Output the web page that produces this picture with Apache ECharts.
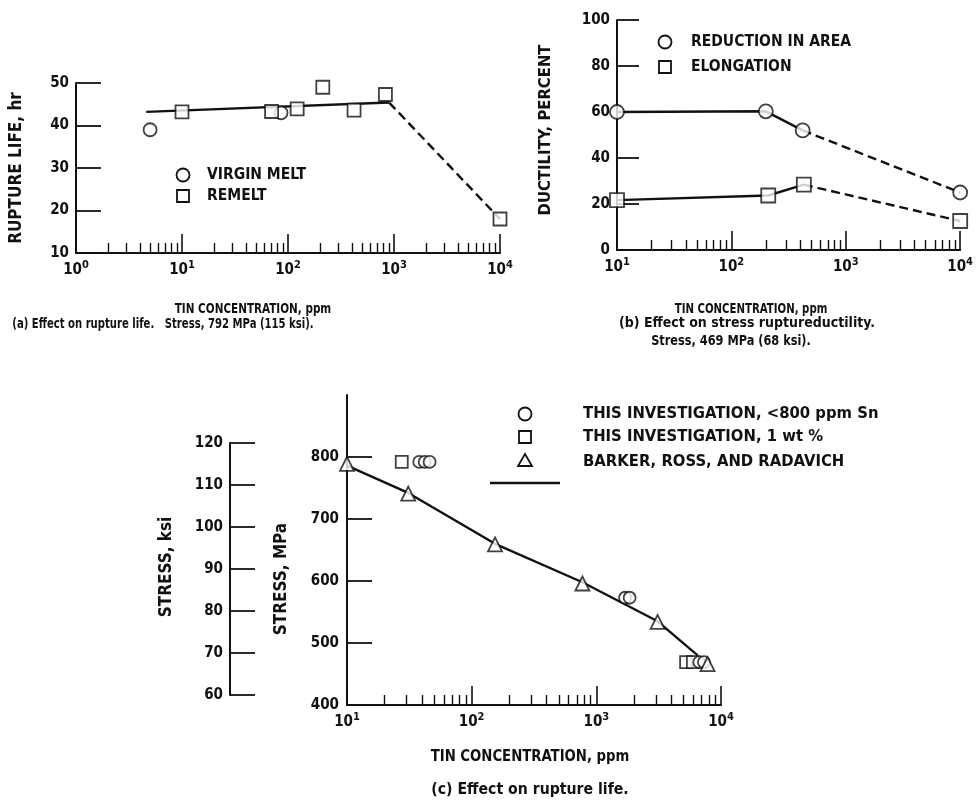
<!DOCTYPE html>
<html><head><meta charset="utf-8">
<script src="https://cdn.jsdelivr.net/npm/echarts@6/dist/echarts.min.js"></script>
<style>html,body{margin:0;padding:0;background:#fff}#c{width:976px;height:810px}</style>
</head><body><div id="c"></div>
<script>
// ---------------- data ----------------
const decadeTicks = [1, 10, 100, 1000, 10000];
// (a) rupture life, hr vs tin concentration, ppm
const aVirginMelt = [[5, 39], [86, 43]];
const aRemelt = [[10, 43.2], [70, 43.3], [122, 43.9], [213, 49], [420, 43.6], [830, 47.3], [10000, 18]];
const aFitSolid = [[4.6, 43.2], [900, 45.4]];
const aFitDashed = [[900, 45.4], [10000, 18]];
// (b) ductility, percent
const bReduction = [[10, 60], [200, 60.3], [420, 52], [10000, 25]];
const bElongation = [[10, 21.7], [210, 23.7], [430, 28.4], [10000, 12.6]];
const bRaSolid = [[10, 60], [200, 60.3], [420, 52]];
const bRaDashed = [[420, 52], [10000, 25]];
const bElSolid = [[10, 21.7], [210, 23.7], [430, 28.4]];
const bElDashed = [[430, 28.4], [10000, 12.6]];
// (c) stress, MPa
const cBelow800 = [[38, 792], [42, 792], [46, 792], [1700, 573], [1850, 573], [6700, 469], [7300, 469]];
const cOneWt = [[27.5, 792], [5250, 469], [5950, 469]];
const cBarker = [[10, 789], [31, 741], [154, 659], [773, 596], [3100, 534], [7800, 466]];
const cBarkerFit = [[10, 786], [31, 742], [154, 660], [773, 598], [3100, 535], [6500, 480]];
const cMpaLabels = [400, 500, 600, 700, 800];
const cMpaTicks = [500, 600, 700, 800];

// ---------------- style ----------------
const INK = '#111';
const F = '"DejaVu Sans Condensed", "DejaVu Sans", sans-serif';
const minorVals = [];
decadeTicks.forEach(d => { for (let k = 2; k <= 9; k++) minorVals.push(d * k); });

function logLabel(v) { return '{b|10}{s|' + Math.round(Math.log10(v)) + '}'; }
const logRich = {
  b: { fontSize: 15, fontWeight: 'bold', fontFamily: F, color: INK },
  s: { fontSize: 11, fontWeight: 'bold', fontFamily: F, color: INK, padding: [0, 0, 9, 0] }
};
function xMajor(grid, min) {
  const d = decadeTicks.filter(v => v >= min);
  return {
    type: 'log', logBase: 10, gridIndex: grid, min: min, max: 10000, position: 'bottom',
    axisLine: { show: true, lineStyle: { color: INK, width: 2 } },
    axisTick: { show: true, inside: true, length: 19, lineStyle: { color: INK, width: 1.6 }, customValues: d },
    axisLabel: { show: true, customValues: d, formatter: logLabel, rich: logRich, margin: 7 },
    splitLine: { show: false }, minorTick: { show: false }
  };
}
function xMinor(grid, min) {
  return {
    type: 'log', logBase: 10, gridIndex: grid, min: min, max: 10000, position: 'bottom',
    axisLine: { show: false }, axisLabel: { show: false }, splitLine: { show: false },
    axisTick: { show: true, inside: true, length: 10, lineStyle: { color: INK, width: 1.4 },
      customValues: minorVals.filter(v => v > min && v < 10000) }
  };
}
function yAx(grid, min, max, interval, len, extra) {
  return Object.assign({
    type: 'value', gridIndex: grid, min: min, max: max, interval: interval,
    axisLine: { show: true, lineStyle: { color: INK, width: 2 } },
    axisTick: { show: true, inside: true, length: len, lineStyle: { color: INK, width: 1.8 } },
    axisLabel: { color: INK, fontSize: 15, fontWeight: 'bold', fontFamily: F, margin: 7 },
    splitLine: { show: false }
  }, extra || {});
}
const open = { color: '#fff', borderColor: INK, borderWidth: 1.8 };
function pts(name, data, xi, yi, symbol, size) {
  return { name: name, type: 'scatter', xAxisIndex: xi, yAxisIndex: yi, data: data, symbol: symbol,
    symbolSize: size, itemStyle: open, z: 5 };
}
function line(data, xi, yi, dashed) {
  return { type: 'line', xAxisIndex: xi, yAxisIndex: yi, data: data, symbol: 'none', silent: true,
    lineStyle: { color: INK, width: 2.4, type: dashed ? [9, 5] : 'solid' }, z: 3 };
}

const option = {
  backgroundColor: '#fff',
  animation: false,
  grid: [
    { left: 76, top: 83, width: 424, height: 170 },
    { left: 617, top: 20, width: 345, height: 230 },
    { left: 347, top: 395, width: 374, height: 310 },
    { left: 230, top: 443, width: 10, height: 252 }
  ],
  xAxis: [
    xMajor(0, 1), xMinor(0, 1),
    xMajor(1, 10), xMinor(1, 10),
    xMajor(2, 10), xMinor(2, 10),
    { type: 'value', gridIndex: 3, show: false }
  ],
  yAxis: [
    yAx(0, 10, 50, 10, 25),
    yAx(1, 0, 100, 20, 22),
    yAx(2, 400, 900, 100, 25, {
      axisTick: { show: true, inside: true, length: 25, lineStyle: { color: INK, width: 1.8 }, customValues: cMpaTicks },
      axisLabel: { color: INK, fontSize: 15, fontWeight: 'bold', fontFamily: F, margin: 8, customValues: cMpaLabels }
    }),
    yAx(3, 60, 120, 10, 25)
  ],
  series: [
    line(aFitSolid, 0, 0, false), line(aFitDashed, 0, 0, true),
    pts('VIRGIN MELT', aVirginMelt, 0, 0, 'circle', 13),
    pts('REMELT', aRemelt, 0, 0, 'rect', 13),
    line(bRaSolid, 2, 1, false), line(bRaDashed, 2, 1, true),
    line(bElSolid, 2, 1, false), line(bElDashed, 2, 1, true),
    pts('REDUCTION IN AREA', bReduction, 2, 1, 'circle', 14),
    pts('ELONGATION', bElongation, 2, 1, 'rect', 14),
    line(cBarkerFit, 4, 2, false),
    pts('THIS INVESTIGATION, 1 wt %', cOneWt, 4, 2, 'rect', 12),
    pts('THIS INVESTIGATION, <800 ppm Sn', cBelow800, 4, 2, 'circle', 12),
    pts('BARKER, ROSS, AND RADAVICH', cBarker, 4, 2, 'triangle', 14)
  ],
  graphic: []
};

const G = option.graphic;
// t: text, x,y: anchor, size: font px, o: {align, rot, sx}
function txt(t, x, y, size, o) {
  o = o || {};
  G.push({
    type: 'text', x: x, y: y, silent: true,
    rotation: o.rot || 0, scaleX: o.sx || 1,
    style: { text: t, font: 'bold ' + size + 'px ' + F, fill: INK,
      textAlign: o.align || 'left', textVerticalAlign: 'middle' }
  });
}
function gCircle(x, y) { G.push({ type: 'circle', shape: { cx: x, cy: y, r: 6.5 }, style: { fill: '#fff', stroke: INK, lineWidth: 1.8 } }); }
function gRect(x, y) { G.push({ type: 'rect', shape: { x: x - 6, y: y - 6, width: 12, height: 12 }, style: { fill: '#fff', stroke: INK, lineWidth: 1.8 } }); }
function gTri(x, y) { G.push({ type: 'polygon', shape: { points: [[x, y - 7], [x + 7, y + 5], [x - 7, y + 5]] }, style: { fill: '#fff', stroke: INK, lineWidth: 1.8 } }); }
const VERT = Math.PI / 2;

// (a) legend & titles
gCircle(183, 175); txt('VIRGIN MELT', 207, 175, 15.5);
gRect(183, 196); txt('REMELT', 207, 196, 15.5);
txt('RUPTURE LIFE, hr', 17, 168, 17, { rot: VERT, align: 'center' });
txt('TIN CONCENTRATION, ppm', 253, 309, 14.5, { align: 'center', sx: 0.8 });
txt('(a) Effect on rupture life.   Stress, 792 MPa (115 ksi).', 163, 324, 14, { align: 'center', sx: 0.8 });
// (b)
gCircle(665, 42); txt('REDUCTION IN AREA', 691, 42, 15.5);
gRect(665, 67); txt('ELONGATION', 691, 67, 15.5);
txt('DUCTILITY, PERCENT', 546, 130, 16.5, { rot: VERT, align: 'center' });
txt('TIN CONCENTRATION, ppm', 751, 309, 14.5, { align: 'center', sx: 0.78 });
txt('(b) Effect on stress ruptureductility.', 747, 323, 14, { align: 'center' });
txt('Stress, 469 MPa (68 ksi).', 731, 341, 14, { align: 'center', sx: 0.9 });
// (c)
gCircle(525, 414); txt('THIS INVESTIGATION, <800 ppm Sn', 583, 414, 16.5);
gRect(525, 437); txt('THIS INVESTIGATION, 1 wt %', 583, 437, 16.5);
gTri(525, 461); txt('BARKER, ROSS, AND RADAVICH', 583, 462, 16.5);
G.push({ type: 'line', shape: { x1: 490, y1: 483, x2: 560, y2: 483 }, style: { stroke: INK, lineWidth: 2.5 } });
txt('STRESS, ksi', 167, 567, 17, { rot: VERT, align: 'center' });
txt('STRESS, MPa', 282, 579, 17, { rot: VERT, align: 'center' });
txt('TIN CONCENTRATION, ppm', 530, 757, 15.5, { align: 'center', sx: 0.95 });
txt('(c) Effect on rupture life.', 530, 790, 16.5, { align: 'center', sx: 0.95 });

const chart = echarts.init(document.getElementById('c'), null, { renderer: 'canvas' });
chart.setOption(option);
</script>
</body></html>
